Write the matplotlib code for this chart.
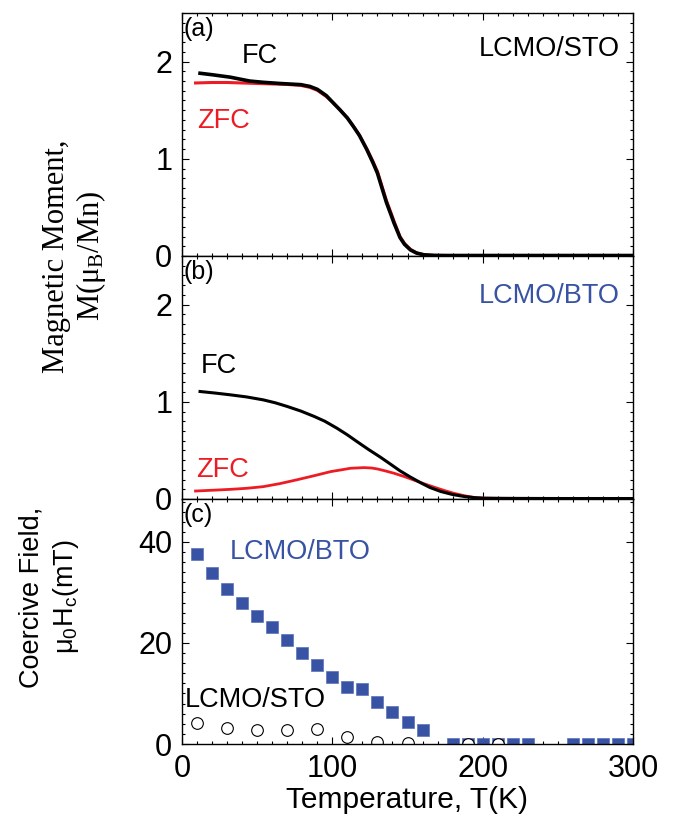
import matplotlib
matplotlib.use('Agg')
import matplotlib.pyplot as plt
from matplotlib.ticker import MultipleLocator

plt.rcParams['font.family'] = ['Liberation Sans', 'DejaVu Sans']

# --- panel (a): LCMO/STO magnetization ---
T_a_fc = [12, 20, 32, 45, 54, 65, 79, 85, 90, 96, 100, 105, 110, 114, 118, 123, 127, 130,
          133, 136, 139, 141, 143, 145, 148, 152, 156, 161, 168, 176, 190, 220, 260, 300]
M_a_fc = [1.88, 1.865, 1.84, 1.80, 1.787, 1.775, 1.763, 1.745, 1.715, 1.65, 1.585, 1.505, 1.42,
          1.333, 1.24, 1.093, 0.96, 0.852, 0.70, 0.55, 0.425, 0.34, 0.265, 0.19, 0.12, 0.062,
          0.03, 0.012, 0.006, 0.005, 0.005, 0.005, 0.005, 0.005]
T_a_zfc = [9, 20, 30, 40, 50, 60, 70, 79, 85, 90, 96, 100, 105, 110, 114, 118, 123, 127, 130,
           133, 136, 139, 141, 143, 145, 148, 152, 156, 161, 168, 176, 190, 220, 260, 300]
M_a_zfc = [1.78, 1.785, 1.785, 1.78, 1.775, 1.77, 1.765, 1.755, 1.735, 1.705, 1.64, 1.585, 1.505,
           1.42, 1.335, 1.245, 1.10, 0.975, 0.87, 0.72, 0.57, 0.445, 0.36, 0.28, 0.2, 0.13,
           0.068, 0.033, 0.013, 0.006, 0.005, 0.005, 0.005, 0.005, 0.005]

# --- panel (b): LCMO/BTO magnetization ---
T_b_fc = [12, 22, 32, 43, 54, 62, 70, 79, 88, 95, 103, 110, 116, 124, 132, 139, 145, 152, 159,
          165, 172, 180, 188, 195, 201, 220, 250, 300]
M_b_fc = [1.106, 1.09, 1.072, 1.05, 1.02, 0.99, 0.952, 0.905, 0.849, 0.80, 0.729, 0.66, 0.595,
          0.51, 0.43, 0.355, 0.29, 0.225, 0.165, 0.118, 0.078, 0.046, 0.025, 0.013, 0.008, 0.006,
          0.005, 0.005]
T_b_zfc = [9, 20, 32, 43, 54, 65, 76, 88, 99, 106, 112, 121, 126, 130, 135, 141, 148, 154, 161,
           168, 175, 181, 188, 194, 200, 210, 250, 300]
M_b_zfc = [0.082, 0.09, 0.099, 0.11, 0.127, 0.158, 0.196, 0.24, 0.282, 0.30, 0.316, 0.323, 0.319,
           0.309, 0.29, 0.265, 0.23, 0.196, 0.157, 0.12, 0.085, 0.058, 0.033, 0.017, 0.01, 0.007,
           0.006, 0.005]

# --- panel (c): coercive field ---
T_bto = [10, 20, 30, 40, 50, 60, 70, 80, 90, 100, 110, 120, 130, 140, 150, 160,
         180, 190, 200, 210, 220, 230, 260, 270, 280, 290, 300]
H_bto = [37.7, 33.8, 30.6, 27.9, 25.4, 23.1, 20.5, 18.0, 15.6, 13.2, 11.2, 10.8, 8.4, 6.4, 4.4, 2.8,
         0, 0, 0, 0, 0, 0, 0, 0, 0, 0, 0]
T_sto = [10, 30, 50, 70, 90, 110, 130, 150, 190, 210]
H_sto = [4.1, 3.1, 2.7, 2.7, 3.0, 1.4, 0.4, 0.2, 0, 0]

RED = '#ed1c24'
BLUE = '#3853a4'

W, H = 674, 823
fig = plt.figure(figsize=(W / 100, H / 100), dpi=100)
left = 182 / W
width = (633 - 182) / W
ax_a = fig.add_axes([left, 1 - 256 / H, width, 243 / H])
ax_b = fig.add_axes([left, 1 - 499 / H, width, 243 / H])
ax_c = fig.add_axes([left, 1 - 744 / H, width, 245 / H])

for ax in (ax_a, ax_b, ax_c):
    ax.set_xlim(0, 300)
    ax.xaxis.set_major_locator(MultipleLocator(100))
    ax.xaxis.set_minor_locator(MultipleLocator(10))
    ax.tick_params(which='both', direction='in', top=True, right=True, labelsize=22, width=0.8)
    ax.tick_params(which='major', length=5, pad=7)
    ax.tick_params(which='minor', length=2.5)
    for s in ax.spines.values():
        s.set_linewidth(1.0)

for ax in (ax_a, ax_b):
    ax.set_ylim(0, 2.5)
    ax.yaxis.set_major_locator(MultipleLocator(1))
    ax.yaxis.set_minor_locator(MultipleLocator(0.1))
    ax.tick_params(labelbottom=False)

# (a)
ax_a.plot(T_a_zfc, M_a_zfc, color=RED, lw=2.2, solid_joinstyle='round')
ax_a.plot(T_a_fc, M_a_fc, color='black', lw=2.6, solid_joinstyle='round')
ax_a.text(0.004, 0.985, '(a)', transform=ax_a.transAxes, fontsize=18, ha='left', va='top')
ax_a.text(40, 1.99, 'FC', fontsize=19.5, color='black')
ax_a.text(10, 1.32, 'ZFC', fontsize=19.5, color=RED)
ax_a.text(291, 2.06, 'LCMO/STO', fontsize=19.5, color='black', ha='right')

# (b)
ax_b.plot(T_b_zfc, M_b_zfc, color=RED, lw=2.0, solid_joinstyle='round')
ax_b.plot(T_b_fc, M_b_fc, color='black', lw=2.2, solid_joinstyle='round')
ax_b.text(0.004, 0.985, '(b)', transform=ax_b.transAxes, fontsize=18, ha='left', va='top')
ax_b.text(12.4, 1.30, 'FC', fontsize=19.5, color='black')
ax_b.text(9.3, 0.23, 'ZFC', fontsize=19.5, color=RED)
ax_b.text(291, 2.02, 'LCMO/BTO', fontsize=19.5, color=BLUE, ha='right')

# (c)
ax_c.set_ylim(0, 48.5)
ax_c.yaxis.set_major_locator(MultipleLocator(20))
ax_c.yaxis.set_minor_locator(MultipleLocator(2))
ax_c.plot(T_bto, H_bto, 's', color=BLUE, ms=9.2, mec='#5a72b8', mew=0.5)
ax_c.plot(T_sto, H_sto, 'o', mfc='white', mec='black', ms=8.4, mew=0.8)
ax_c.text(0.004, 0.985, '(c)', transform=ax_c.transAxes, fontsize=18, ha='left', va='top')
ax_c.text(31.6, 36.6, 'LCMO/BTO', fontsize=19.5, color=BLUE)
ax_c.text(2, 7.4, 'LCMO/STO', fontsize=19.5, color='black')
ax_c.set_xlabel('Temperature, T(K)', fontsize=21.5, labelpad=2)

fig.text(75 / W, 1 - 256 / H, 'Magnetic Moment,\n' + r'M($\mathregular{\mu_B}$/Mn)',
         rotation=90, ha='center', va='center', fontsize=22, family='Liberation Serif',
         multialignment='center', linespacing=1.15)
fig.text(50 / W, 1 - 597 / H, 'Coercive Field,\n' + r'$\mathregular{\mu_0H_c}$(mT)',
         rotation=90, ha='center', va='center', fontsize=19.5, multialignment='center',
         linespacing=1.3)

fig.savefig('out.png', dpi=100)
